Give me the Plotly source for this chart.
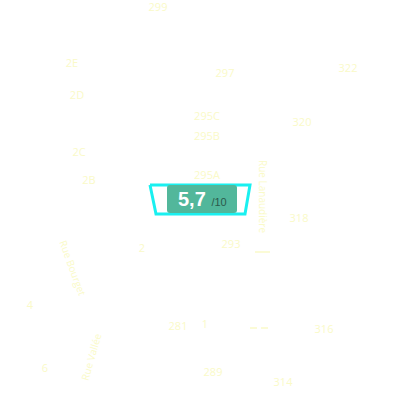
import plotly.graph_objects as go

# -------- Map data (pixel coordinates of the tile) --------
label_text = ["299", "2E", "2D", "2C", "2B", "297", "322", "295C", "295B", "295A",
              "320", "318", "293", "2", "4", "281", "1", "316", "6", "289", "314"]
label_x = [158, 72, 77, 79, 89, 225, 348, 207, 207, 207,
           302, 299, 231, 142, 30, 178, 205, 324, 45, 213, 283]
label_y = [8, 64, 96, 153, 181, 74, 69, 117, 137, 176,
           123, 219, 245, 249, 306, 327, 325, 330, 369, 373, 383]

street_text = ["Rue Lanaudière", "Rue Bourget", "Rue Vallée"]
street_x = [263, 73, 91]
street_y = [196, 268, 357]
street_angle = [90, 70, -74]

# small road ticks
tick_x = [[255, 270], [250, 257], [261, 268]]
tick_y = [[252, 252], [328, 328], [328, 328]]

# highlighted building outline
building_x = [150, 250, 245, 156, 150]
building_y = [185, 185, 214, 214, 185]

score = "5,7"
score_max = "/10"
badge_x = [167, 237]
badge_y = [185, 213]

PALE = "#fafac8"

fig = go.Figure()

for xs, ys in zip(tick_x, tick_y):
    fig.add_trace(go.Scatter(x=xs, y=ys, mode="lines",
                             line=dict(color=PALE, width=1.5), hoverinfo="skip"))

fig.add_trace(go.Scatter(x=label_x, y=label_y, mode="text", text=label_text,
                         textfont=dict(family="Open Sans", size=11, color=PALE),
                         hoverinfo="skip", cliponaxis=False))

for t, x, y, a in zip(street_text, street_x, street_y, street_angle):
    fig.add_annotation(x=x, y=y, text=t, textangle=a, showarrow=False,
                       font=dict(family="Open Sans", size=10, color=PALE))

fig.add_trace(go.Scatter(x=building_x, y=building_y, mode="lines", fill="toself",
                         fillcolor="white", line=dict(color="#19f0f0", width=3),
                         hoverinfo="skip"))

# rounded badge
x0, x1 = badge_x
y0, y1 = badge_y
r = 3
path = (f"M {x0+r},{y0} L {x1-r},{y0} Q {x1},{y0} {x1},{y0+r} "
        f"L {x1},{y1-r} Q {x1},{y1} {x1-r},{y1} L {x0+r},{y1} "
        f"Q {x0},{y1} {x0},{y1-r} L {x0},{y0+r} Q {x0},{y0} {x0+r},{y0} Z")
fig.add_shape(type="path", path=path, fillcolor="#52b79b", line=dict(width=0))

fig.add_annotation(x=(x0 + x1) / 2, y=(y0 + y1) / 2, showarrow=False,
                   text=f"<b>{score}</b> <span style='font-size:11px;color:#2b5a4c'>{score_max}</span>",
                   font=dict(family="Liberation Sans", size=20, color="white"))

fig.update_layout(
    width=400, height=400,
    margin=dict(l=0, r=0, t=0, b=0),
    plot_bgcolor="white", paper_bgcolor="white",
    showlegend=False,
    xaxis=dict(range=[0, 400], visible=False, fixedrange=True),
    yaxis=dict(range=[400, 0], visible=False, fixedrange=True),
)

# drop the default page margin so the tile fills the window
fig.write_html("out.html", config={"displayModeBar": False},
               post_script="document.body.style.margin='0px';")
